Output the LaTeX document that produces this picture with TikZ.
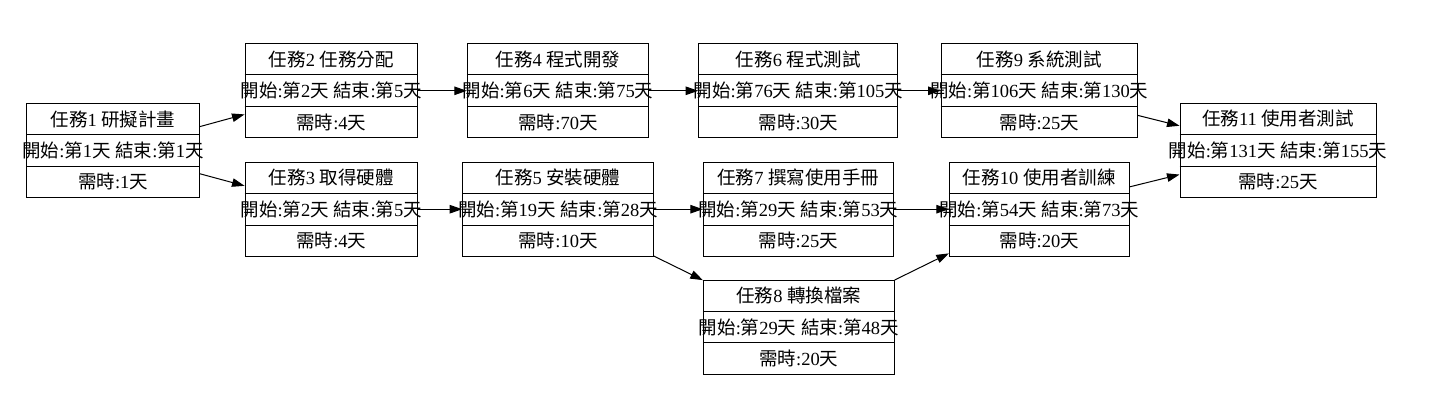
\documentclass[tikz,border=0pt]{standalone}
\usepackage{fontspec}
\setmainfont{Liberation Serif}
\newfontfamily\cjk{Noto Sans CJK TC}
\usetikzlibrary{arrows.meta,calc}
\newcommand\C[1]{{\cjk #1}}
\tikzset{
  taskbox/.style={draw, line width=1pt, rectangle, inner sep=0pt, minimum height=94pt},
  tasktext/.style={inner sep=0pt, font=\fontsize{18.5}{20}\selectfont},
  edge/.style={draw, line width=1pt, -{Triangle[length=12.5pt,width=8.5pt]}},
}
\newcommand\tasknode[9]{%
  \node[taskbox, minimum width=#4] (#1) at (#2,#3) {};
  \draw[line width=1pt] ($(#1.north west)!1/3!(#1.south west)$) -- ($(#1.north east)!1/3!(#1.south east)$);
  \draw[line width=1pt] ($(#1.north west)!2/3!(#1.south west)$) -- ($(#1.north east)!2/3!(#1.south east)$);
  \node[tasktext] (#1-a) at ($(#1.center)+(0,-31.33)$) {\C{任務}#5 \C{#6}};
  \node[tasktext] (#1-b) at (#1.center) {\C{開始}:\C{第}#7\C{天} \C{結束}:\C{第}#8\C{天}};
  \node[tasktext] (#1-c) at ($(#1.center)+(0,31.33)$) {\C{需時}:#9\C{天}};
}
\begin{document}
\begin{tikzpicture}[x=1pt,y=-1pt]
\useasboundingbox (0,0) rectangle (1454,420);
\tasknode{t1}{113}{150.3}{172.6pt}{1}{研擬計畫}{1}{1}{1}
\tasknode{t2}{331.2}{90.8}{172.3pt}{2}{任務分配}{2}{5}{4}
\tasknode{t3}{331.2}{209.2}{172.3pt}{3}{取得硬體}{2}{5}{4}
\tasknode{t4}{558}{90.8}{181.4pt}{4}{程式開發}{6}{75}{70}
\tasknode{t5}{558}{209.2}{190.6pt}{5}{安裝硬體}{19}{28}{10}
\tasknode{t6}{798.2}{90.8}{199pt}{6}{程式測試}{76}{105}{30}
\tasknode{t7}{798.3}{209.2}{190pt}{7}{撰寫使用手冊}{29}{53}{25}
\tasknode{t8}{798.7}{327}{190.7pt}{8}{轉換檔案}{29}{48}{20}
\tasknode{t9}{1039.2}{90.8}{196.3pt}{9}{系統測試}{106}{130}{25}
\tasknode{t10}{1039.2}{209.2}{179.7pt}{10}{使用者訓練}{54}{73}{20}
\tasknode{t11}{1278}{150.3}{196pt}{11}{使用者測試}{131}{155}{25}
\draw[edge] (t1) -- (t2);
\draw[edge] (t1) -- (t3);
\draw[edge] (t2) -- (t4);
\draw[edge] (t3) -- (t5);
\draw[edge] (t4) -- (t6);
\draw[edge] (t5) -- (t7);
\draw[edge] (t5) -- (t8);
\draw[edge] (t6) -- (t9);
\draw[edge] (t7) -- (t10);
\draw[edge] (t8) -- (t10);
\draw[edge] (t9) -- (t11);
\draw[edge] (t10) -- (t11);
\end{tikzpicture}
\end{document}
